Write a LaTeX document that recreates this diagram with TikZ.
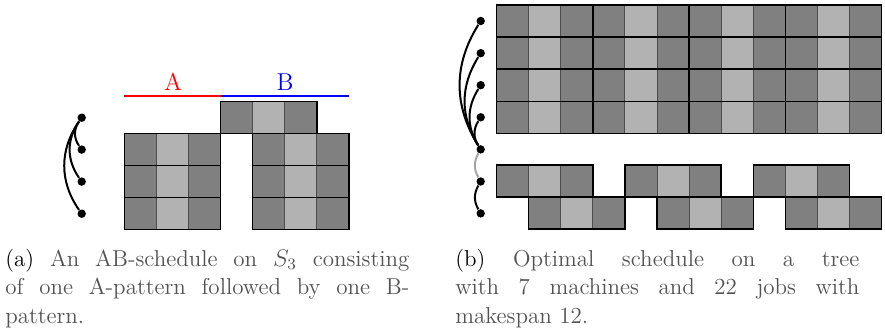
\documentclass[tikz,border=0pt]{standalone}
\usepackage{fontspec}
\begin{document}
\begin{tikzpicture}[x=0.5pt,y=0.5pt,
  tdot/.style={circle,fill=black,inner sep=0pt,minimum size=4.2pt},
  tedge/.style={line width=1pt,black},
  tgrayedge/.style={line width=1pt,black!35},
  capstyle/.style={inner sep=0pt,text width=202pt,align=justify,font=\fontsize{11.5}{14.25}\selectfont,text=black!68},
  labstyle/.style={font=\fontsize{12.2}{14}\selectfont,inner sep=0pt,anchor=base},
  blk/.pic={
    \fill[black!50] (0,0) rectangle (32.1,-32.1);
    \fill[black!30] (32.1,0) rectangle (64.2,-32.1);
    \fill[black!50] (64.2,0) rectangle (96.3,-32.1);
    \draw[black!70,line width=0.5pt] (32.1,0) -- (32.1,-32.1) (64.2,0) -- (64.2,-32.1);
    \draw[black,line width=0.75pt] (0,0) rectangle (96.3,-32.1);
  }]
\useasboundingbox (0,0) rectangle (885,333);

% ---------- (a) ----------
\foreach \yy in {133.3,165.4,197.5}{
  \pic at (124.3,333-\yy) {blk};
  \pic at (252.7,333-\yy) {blk};
}
\pic at (220.6,333-101.3) {blk};
\coordinate (ra) at (124.3,333-95.7);
\coordinate (rm) at (220.6,333-95.7);
\coordinate (rb) at (349,333-95.7);
\draw[red,line width=1pt] (ra) -- (rm);
\draw[blue,line width=1pt] (rm) -- (rb);
\node[labstyle,text=red] (labA) at (173,333-90.7) {A};
\node[labstyle,text=blue] (labB) at (285,333-90.7) {B};

\node[tdot] (a1) at (81.7,333-117.7) {};
\node[tdot] (a2) at (81.7,333-149.6) {};
\node[tdot] (a3) at (81.7,333-181.6) {};
\node[tdot] (a4) at (81.7,333-213.7) {};
\draw[tedge] (a1) to[bend right=35] (a2);
\draw[tedge] (a1) to[bend right=35] (a3);
\draw[tedge] (a1) to[bend right=35] (a4);

% ---------- (b) ----------
\foreach \k in {0,1,2,3}{
  \foreach \j in {0,1,2,3}{
    \pic at (496.5+96.3*\k,333-5-32.1*\j) {blk};
  }
}
\foreach \k in {0,1,2}{
  \pic at (496.5+128.4*\k,333-165) {blk};
  \pic at (528.6+128.4*\k,333-197.1) {blk};
}

\node[tdot] (b1) at (480.7,333-21) {};
\node[tdot] (b2) at (480.7,333-53.2) {};
\node[tdot] (b3) at (480.7,333-85.2) {};
\node[tdot] (b4) at (480.7,333-117.3) {};
\node[tdot] (b5) at (480.7,333-149.4) {};
\node[tdot] (b6) at (480.7,333-181.5) {};
\node[tdot] (b7) at (480.7,333-213.4) {};
\draw[tedge] (b5) to[bend left=32] (b1);
\draw[tedge] (b5) to[bend left=32] (b2);
\draw[tedge] (b5) to[bend left=32] (b3);
\draw[tedge] (b5) to[bend left=32] (b4);
\draw[tgrayedge] (b5) to[bend right=30] (b6);
\draw[tedge] (b6) to[bend right=30] (b7);

% ---------- captions ----------
\node[capstyle,anchor=north west] (capa) at (5,333-248.5)
  {\textcolor{black}{(a)} An AB-schedule on $S_3$ consisting\linebreak of one A-pattern followed by one B-\linebreak pattern.};
\node[capstyle,anchor=north west] (capb) at (455,333-248.5)
  {\textcolor{black}{(b)} Optimal schedule on a tree\linebreak with 7 machines and 22 jobs with\linebreak makespan 12.};
\end{tikzpicture}
\end{document}
